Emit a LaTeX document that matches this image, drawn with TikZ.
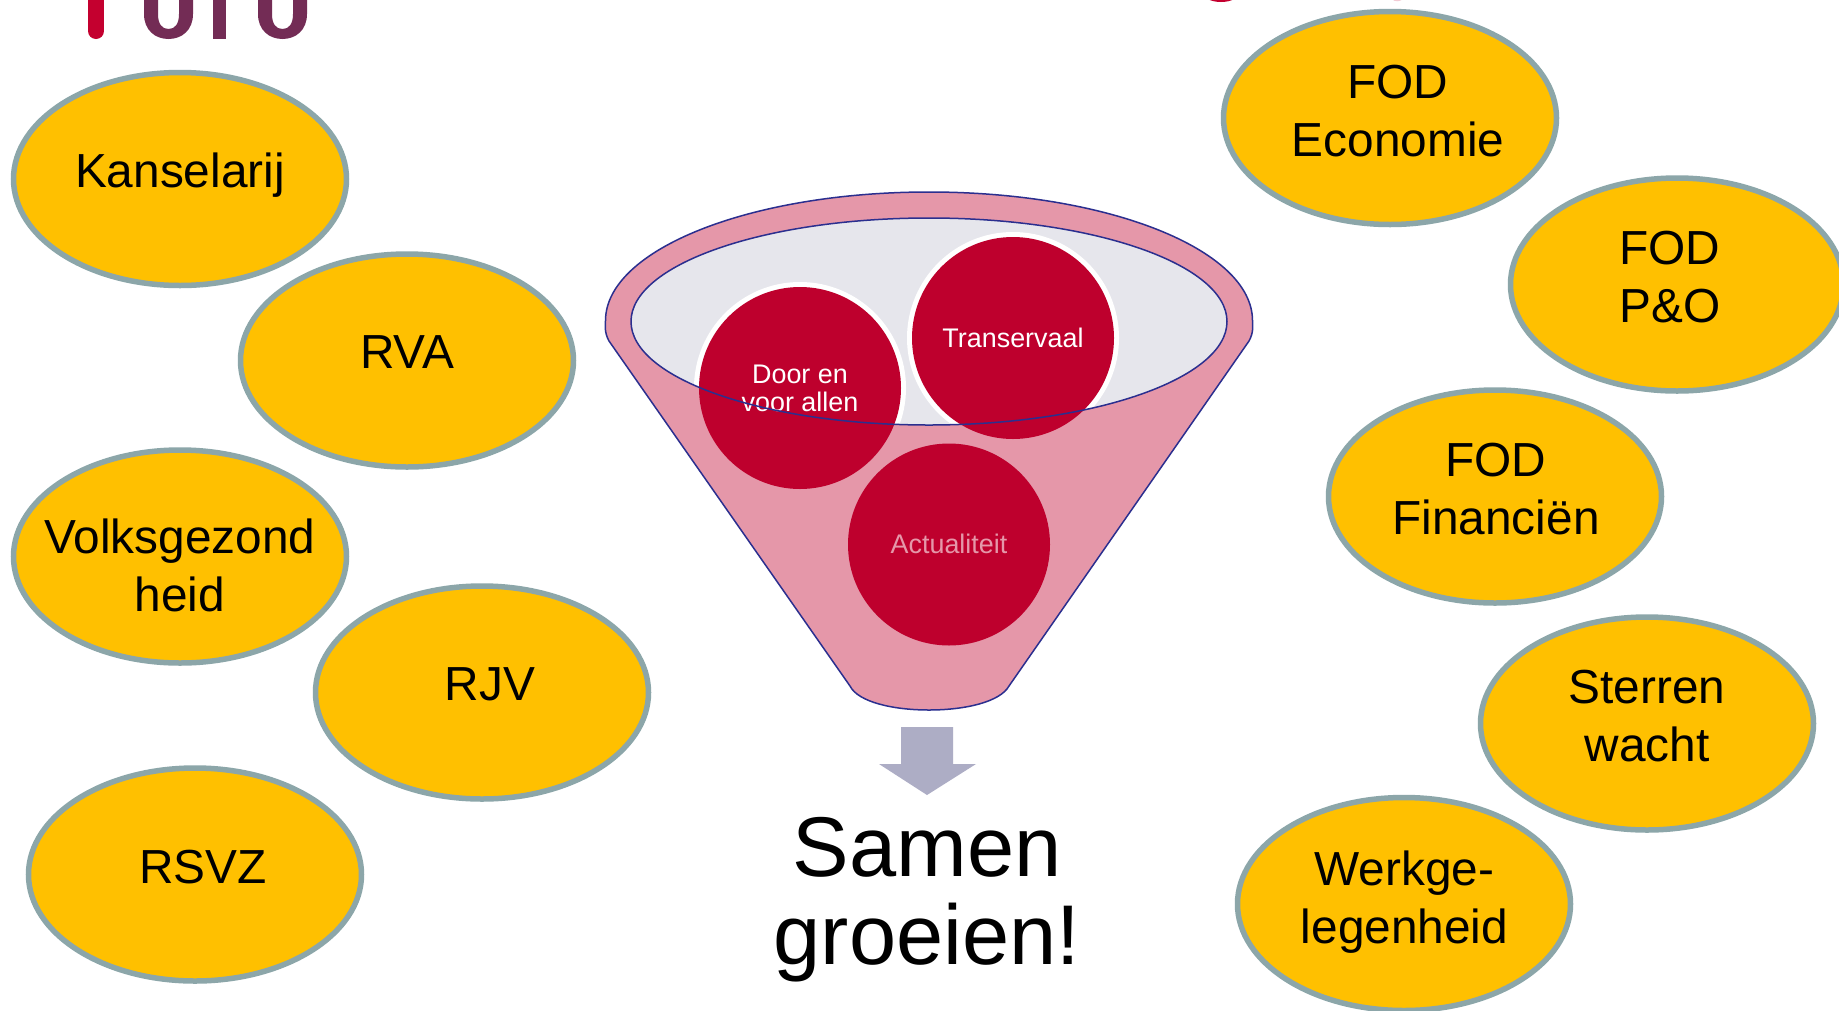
\documentclass[tikz,border=0pt]{standalone}
\usepackage{fontspec}
\setmainfont{Liberation Sans}
\usetikzlibrary{shapes.geometric}
\definecolor{blobfill}{HTML}{FFC000}
\definecolor{blobline}{HTML}{8CA6A9}
\definecolor{funpink}{HTML}{E597A9}
\definecolor{funline}{HTML}{2B2F8F}
\definecolor{funin}{HTML}{E6E6EC}
\definecolor{ballred}{HTML}{BE002D}
\definecolor{arrowc}{HTML}{ADADC5}
\definecolor{logop}{HTML}{732C55}
\definecolor{logor}{HTML}{C4002F}
\tikzset{
  x=1pt,y=-1pt,
  blob/.style={ellipse,draw=blobline,fill=blobfill,line width=5.5pt,minimum width=333pt,minimum height=213pt,inner sep=0pt},
  blobtxt/.style={font=\fontsize{47.8}{58}\selectfont,align=center,inner sep=0pt,text=black},
  ball/.style={circle,fill=ballred,minimum size=202pt,inner sep=0pt},
  balltxt/.style={font=\fontsize{26.9}{27.5}\selectfont,align=center,inner sep=0pt,text=white},
  logostroke/.style={line width=16pt,line cap=round}
}
\begin{document}
\begin{tikzpicture}
\useasboundingbox (0,0) rectangle (1839,1010);
\fill[white] (0,0) rectangle (1839,1010);
% cut-off logo fragments
\begin{scope}
\clip (0,0) rectangle (1839,1010);
\draw[logostroke,draw=logor] (96,-10) -- (96,31);
\fill[logop] (144,-5) -- (144,14) .. controls (144,30) and (155,39) .. (168.5,39)
  .. controls (182,39) and (193,30) .. (193,14) -- (193,-5) -- (179,-5) -- (179,14)
  .. controls (179,24) and (175,29) .. (168.5,29) .. controls (162,29) and (158,24) .. (158,14)
  -- (158,-5) -- cycle;
\fill[logop] (213,-5) rectangle (226,39);
\fill[logop] (258,-5) -- (258,14) .. controls (258,30) and (269,39) .. (282.5,39)
  .. controls (296,39) and (307,30) .. (307,14) -- (307,-5) -- (293,-5) -- (293,14)
  .. controls (293,24) and (289,29) .. (282.5,29) .. controls (276,29) and (272,24) .. (272,14)
  -- (272,-5) -- cycle;
\fill[logor] (1208,-1) .. controls (1214,3) and (1228,3) .. (1234,-1) -- cycle;
\fill[funpink!50] (1392,-1) .. controls (1394,2) and (1400,2) .. (1403,-1) -- cycle;
\end{scope}
% ellipses
\node[blob] (kans) at (180,179) {};
\node[blob] (rva) at (407,360.5) {};
\node[blob] (volks) at (180,556.5) {};
\node[blob] (rjv) at (482,692.5) {};
\node[blob] (rsvz) at (195,874.5) {};
\node[blob] (eco) at (1390,118) {};
\node[blob] (po) at (1677,284.5) {};
\node[blob] (fin) at (1495,496.5) {};
\node[blob] (ster) at (1647,723.5) {};
\node[blob] (werk) at (1404,904) {};
\node[blobtxt] (tkans) at (180,175.5) {Kanselarij};
\node[blobtxt] (trva) at (407,352) {RVA};
\node[blobtxt] (tvolks) at (180,565) {Volksgezond\\heid};
\node[blobtxt] (trjv) at (490,684) {RJV};
\node[blobtxt] (trsvz) at (203,867) {RSVZ};
\node[blobtxt] (teco) at (1398,111.5) {FOD\\Economie};
\node[blobtxt] (tpo) at (1670,277) {FOD\\P\&O};
\node[blobtxt] (tfin) at (1496,489) {FOD\\Financiën};
\node[blobtxt] (tster) at (1647,716) {Sterren\\wacht};
\node[blobtxt] (twerk) at (1404.5,902.5) {Werkge-\\legenheid};
% funnel
\draw[fill=funpink,draw=funline,line width=1.5pt]
  (609,341) .. controls (604,332) and (605.5,325) .. (605.5,320.7)
  arc[start angle=180,end angle=0,x radius=323.5,y radius=-128.7]
  .. controls (1252.5,325) and (1254,332) .. (1249,341)
  -- (1009,686)
  .. controls (1000,702) and (965,710) .. (929,710)
  .. controls (893,710) and (858,702) .. (850,686) -- cycle;
\fill[funin] (929,321.5) ellipse[x radius=298,y radius=103.5];
\begin{scope}
\clip (929,321.5) ellipse[x radius=298,y radius=103.5];
\fill[white] (800,388) circle[radius=106];
\fill[white] (1013,338) circle[radius=106];
\end{scope}
\node[ball] (door) at (800,388) {};
\node[ball] (trans) at (1013,338) {};
\node[ball] (actu) at (949,544.5) {};
\node[balltxt] (tdoor) at (800,388.5) {Door en\\voor allen};
\node[balltxt] (ttrans) at (1013,338) {Transervaal};
\node[balltxt,text=funpink] (tactu) at (949,544) {Actualiteit};
\draw[draw=funline,line width=1.5pt] (929,321.5) ellipse[x radius=298,y radius=103.5];
% arrow
\fill[arrowc] (901,727) -- (953,727) -- (953,764) -- (976,764) -- (927,795) -- (879,764) -- (901,764) -- cycle;
\node[font=\fontsize{84.8}{88}\selectfont,align=center,inner sep=0pt,text=black] (samen) at (927,899.5) {Samen\\groeien!};
\end{tikzpicture}
\end{document}
